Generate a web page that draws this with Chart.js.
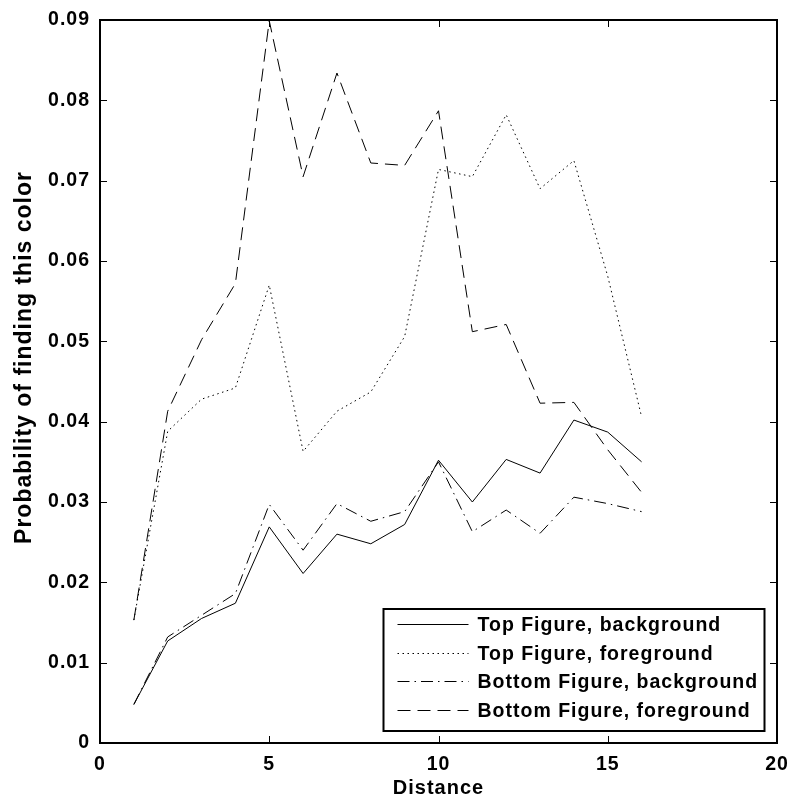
<!DOCTYPE html>
<html>
<head>
<meta charset="utf-8">
<title>Probability of finding this color vs Distance</title>
<script src="https://cdn.jsdelivr.net/npm/chart.js@4.4.1/dist/chart.umd.min.js"></script>
<style>
  html, body { margin: 0; padding: 0; background: #fff; }
</style>
</head>
<body>
<canvas id="colorChart" width="789" height="801"></canvas>
<script>
// distance along x, probability values per series
const distance = [1, 2, 3, 4, 5, 6, 7, 8, 9, 10, 11, 12, 13, 14, 15, 16];
const topBackground    = [0.0048, 0.0127, 0.0155, 0.0174, 0.0269, 0.0211, 0.0260, 0.0248, 0.0272, 0.0352, 0.0300, 0.0353, 0.0336, 0.0402, 0.0387, 0.0350];
const topForeground    = [0.0153, 0.0388, 0.0428, 0.0442, 0.0570, 0.0363, 0.0413, 0.0437, 0.0506, 0.0714, 0.0705, 0.0782, 0.0690, 0.0725, 0.0581, 0.0406];
const bottomBackground = [0.0048, 0.0132, 0.0159, 0.0186, 0.0297, 0.0240, 0.0298, 0.0276, 0.0288, 0.0350, 0.0263, 0.0290, 0.0261, 0.0306, 0.0298, 0.0288];
const bottomForeground = [0.0153, 0.0413, 0.0502, 0.0572, 0.0899, 0.0705, 0.0834, 0.0722, 0.0719, 0.0787, 0.0512, 0.0521, 0.0423, 0.0424, 0.0365, 0.0312];

const seriesLabels = ['Top Figure, background', 'Top Figure, foreground', 'Bottom Figure, background', 'Bottom Figure, foreground'];

const xTickValues = [0, 5, 10, 15, 20];
const xTickLabels = ['0', '5', '10', '15', '20'];
const yTickValues = [0, 0.01, 0.02, 0.03, 0.04, 0.05, 0.06, 0.07, 0.08, 0.09];
const yTickLabels = ['0', '0.01', '0.02', '0.03', '0.04', '0.05', '0.06', '0.07', '0.08', '0.09'];

const yTitle = 'Probability of finding this color';

const FONT = "'Liberation Sans', Arial, Helvetica, sans-serif";

function toPoints(values) {
    return values.map((v, i) => ({ x: distance[i], y: v }));
}

function series(label, values, dash) {
    return {
        label: label,
        data: toPoints(values),
        borderColor: '#000',
        backgroundColor: '#000',
        borderWidth: 1,
        borderDash: dash,
        pointRadius: 0,
        tension: 0,
        fill: false
    };
}

// MATLAB-ish spacing between glyphs
const spacing = {
    id: 'spacing',
    beforeDraw(chart) {
        chart.ctx.letterSpacing = '1px';
    }
};

// box around the plot, inward tick marks, y title and the legend in the lower right
const frame = {
    id: 'frame',
    afterDatasetsDraw(chart) {
        const { ctx, chartArea: a, scales: { x, y } } = chart;
        const tickLen = 7;
        ctx.save();
        ctx.strokeStyle = '#000';
        ctx.lineWidth = 2;
        ctx.strokeRect(a.left, a.top, a.right - a.left, a.bottom - a.top);

        ctx.lineWidth = 1;
        ctx.beginPath();
        x.ticks.forEach(t => {
            const px = Math.round(x.getPixelForValue(t.value)) + 0.5;
            ctx.moveTo(px, a.bottom); ctx.lineTo(px, a.bottom - tickLen);
            ctx.moveTo(px, a.top); ctx.lineTo(px, a.top + tickLen);
        });
        y.ticks.forEach(t => {
            const py = Math.round(y.getPixelForValue(t.value)) + 0.5;
            ctx.moveTo(a.left, py); ctx.lineTo(a.left + tickLen, py);
            ctx.moveTo(a.right, py); ctx.lineTo(a.right - tickLen, py);
        });
        ctx.stroke();

        // rotated y axis title, sits a little above the plot's middle
        ctx.save();
        ctx.translate(25, (a.top + a.bottom) / 2 - 24);
        ctx.rotate(-Math.PI / 2);
        ctx.font = 'bold 23px ' + FONT;
        ctx.letterSpacing = '1px';
        ctx.fillStyle = '#000';
        ctx.textAlign = 'center';
        ctx.textBaseline = 'middle';
        ctx.fillText(yTitle, 0, 0);
        ctx.restore();

        // legend
        const boxW = 381, boxH = 122;
        const bx = a.right - 12.5 - boxW;
        const by = a.bottom - 12 - boxH;
        ctx.fillStyle = '#fff';
        ctx.fillRect(bx, by, boxW, boxH);
        ctx.lineWidth = 2;
        ctx.strokeRect(bx, by, boxW, boxH);

        ctx.font = 'bold 19.5px ' + FONT;
        ctx.textBaseline = 'middle';
        ctx.textAlign = 'left';
        ctx.letterSpacing = '1px';
        chart.data.datasets.forEach((ds, i) => {
            const ry = Math.round(by + 15 + i * 28.5) + 0.5;
            ctx.setLineDash(ds.borderDash || []);
            ctx.lineWidth = 1;
            ctx.beginPath();
            ctx.moveTo(bx + 14, ry);
            ctx.lineTo(bx + 85, ry);
            ctx.stroke();
            ctx.setLineDash([]);
            ctx.fillStyle = '#000';
            ctx.fillText(ds.label, bx + 94, ry + 1);
        });
        ctx.restore();
    }
};

const ctx = document.getElementById('colorChart').getContext('2d');
const chart = new Chart(ctx, {
    type: 'line',
    data: {
        datasets: [
            series(seriesLabels[0], topBackground, []),
            series(seriesLabels[1], topForeground, [1.5, 3.5]),
            series(seriesLabels[2], bottomBackground, [12, 5, 1.5, 5]),
            series(seriesLabels[3], bottomForeground, [13, 7])
        ]
    },
    options: {
        responsive: false,
        animation: false,
        layout: { padding: { top: 20, right: 12, left: 0, bottom: 0 } },
        plugins: {
            legend: { display: false },
            tooltip: { enabled: false }
        },
        scales: {
            x: {
                type: 'linear',
                min: 0,
                max: 20,
                afterBuildTicks: s => { s.ticks = xTickValues.map(v => ({ value: v })); },
                afterFit: s => {
                    s.height = 58;
                    s.paddingLeft = 0;
                    s.paddingRight = 0;
                },
                grid: { display: false, drawTicks: false },
                border: { display: false },
                ticks: {
                    padding: 10,
                    color: '#000',
                    font: { family: FONT, size: 19.5, weight: 'bold' },
                    callback: (v, i) => xTickLabels[i]
                },
                title: {
                    display: true,
                    text: 'Distance',
                    color: '#000',
                    font: { family: FONT, size: 20, weight: 'bold' },
                    padding: { top: 0, bottom: 1 }
                }
            },
            y: {
                type: 'linear',
                min: 0,
                max: 0.09,
                afterBuildTicks: s => { s.ticks = yTickValues.map(v => ({ value: v })); },
                afterFit: s => {
                    s.width = 100;
                    s.paddingTop = 0;
                    s.paddingBottom = 0;
                },
                grid: { display: false, drawTicks: false },
                border: { display: false },
                ticks: {
                    padding: 10,
                    color: '#000',
                    font: { family: FONT, size: 19.5, weight: 'bold' },
                    callback: (v, i) => yTickLabels[i]
                },
                title: { display: false }
            }
        }
    },
    plugins: [spacing, frame]
});
</script>
</body>
</html>
